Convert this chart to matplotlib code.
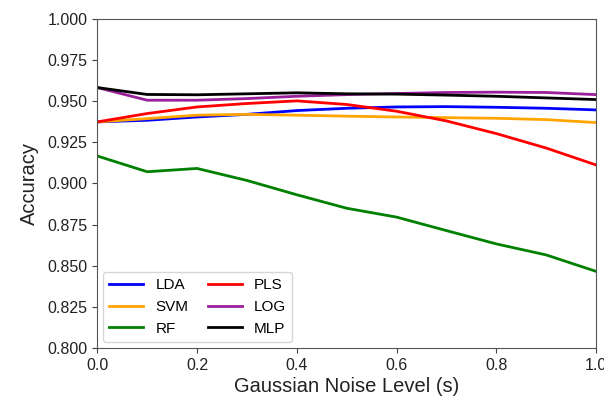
import matplotlib
matplotlib.use("Agg")
import matplotlib.pyplot as plt

noise = [0.0, 0.1, 0.2, 0.3, 0.4, 0.5, 0.6, 0.7, 0.8, 0.9, 1.0]

lda = [0.9374, 0.9384, 0.9404, 0.9420, 0.9443, 0.9457, 0.9465, 0.9467, 0.9463, 0.9457, 0.9447]
svm = [0.9374, 0.9394, 0.9415, 0.9420, 0.9415, 0.9409, 0.9404, 0.9400, 0.9396, 0.9388, 0.9370]
rf = [0.9167, 0.9071, 0.9091, 0.9018, 0.8931, 0.8849, 0.8795, 0.8713, 0.8632, 0.8565, 0.8465]
pls = [0.9374, 0.9425, 0.9465, 0.9486, 0.9502, 0.9480, 0.9439, 0.9380, 0.9303, 0.9215, 0.9112]
log = [0.9583, 0.9506, 0.9506, 0.9516, 0.9530, 0.9540, 0.9547, 0.9553, 0.9555, 0.9553, 0.9540]
mlp = [0.9583, 0.9541, 0.9539, 0.9545, 0.9551, 0.9545, 0.9543, 0.9537, 0.9530, 0.9520, 0.9510]

plt.rcParams["font.family"] = ["Liberation Sans", "DejaVu Sans"]

fig = plt.figure(figsize=(6.04, 4.04), dpi=100)
ax = fig.add_axes([0.161, 0.139, 0.826, 0.814])

series = [("LDA", lda, "blue"), ("SVM", svm, "orange"), ("RF", rf, "green"),
          ("PLS", pls, "red"), ("LOG", log, "#9a1f9a"), ("MLP", mlp, "black")]
for name, vals, color in series:
    ax.plot(noise, vals, color=color, lw=2, label=name)

ax.set_xlim(0, 1)
ax.set_ylim(0.8, 1.0)
ax.set_yticks([0.8, 0.825, 0.85, 0.875, 0.9, 0.925, 0.95, 0.975, 1.0])
ax.set_yticklabels([f"{v:.3f}" for v in ax.get_yticks()])
ax.set_xticks([0.0, 0.2, 0.4, 0.6, 0.8, 1.0])
ax.tick_params(labelsize=11.5, colors="#444444", labelcolor="#222222")
for sp in ax.spines.values():
    sp.set_color("#555555")
ax.set_xlabel("Gaussian Noise Level (s)", fontsize=14.5, color="#222222", labelpad=3)
ax.set_ylabel("Accuracy", fontsize=14.5, color="#222222", labelpad=6)
ax.legend(loc="lower left", ncol=2, fontsize=11, handlelength=2.2, columnspacing=1.3,
          borderaxespad=0.4)

fig.savefig("out.png", dpi=100)
